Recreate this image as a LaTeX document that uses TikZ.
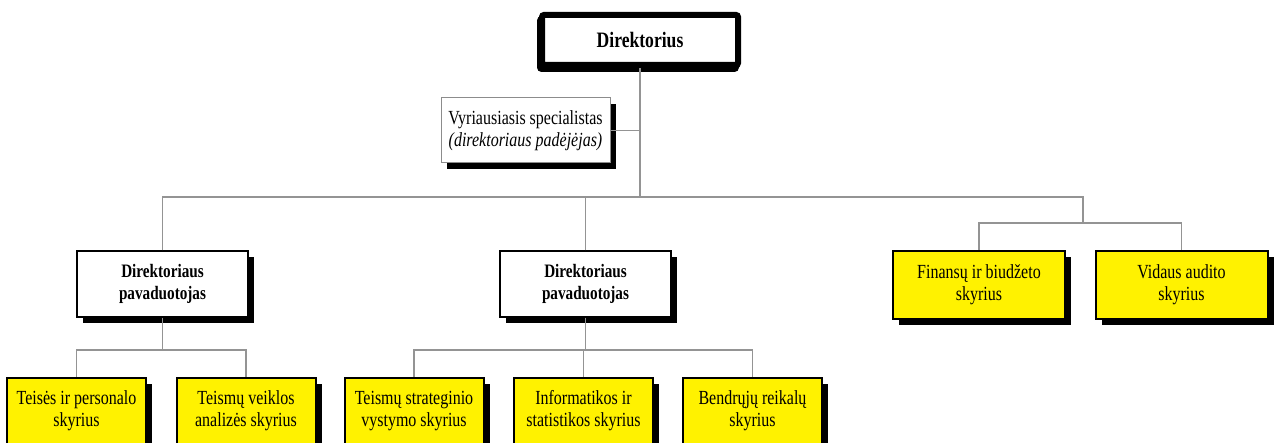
\documentclass[tikz,border=0pt]{standalone}
\usepackage{fontspec}
\setmainfont{Liberation Serif}[FakeStretch=0.8]
\usetikzlibrary{shadows}

\begin{document}
\begin{tikzpicture}[x=1pt, y=-1pt,
    link/.style={draw=black!42, line width=1.3pt},
    shade/.style={drop shadow={shadow xshift=6pt, shadow yshift=-6pt, opacity=1, fill=black}},
    topbox/.style={draw, line width=6pt, rounded corners=2pt, fill=white, minimum width=196pt, minimum height=50pt,
      font=\fontsize{22}{26}\selectfont\bfseries,
      drop shadow={shadow xshift=-2pt, shadow yshift=-4pt, opacity=1, fill=black, draw=black, line width=6pt}},
    staffbox/.style={draw=black!45, line width=1pt, fill=white, shade, align=center, minimum width=169pt, minimum height=65pt,
      font=\fontsize{20}{22}\selectfont},
    deputybox/.style={draw, line width=1.3pt, fill=white, shade, align=center, minimum width=171pt, minimum height=66pt,
      font=\fontsize{19}{22}\selectfont\bfseries},
    unitbox/.style={draw, line width=2pt, fill=yellow, shade, align=center, minimum width=139pt, minimum height=66pt,
      font=\fontsize{20}{22}\selectfont},
    bigunitbox/.style={unitbox, minimum width=172pt, minimum height=68pt}]

  \useasboundingbox (0,0) rectangle (1277,443);

  \node[topbox] (dir) at (640,40) {Direktorius};
  \node[staffbox] (spec) at (525.5,130.5) {Vyriausiasis specialistas\\ \textit{(direktoriaus padėjėjas)}};

  \node[deputybox] (dep1) at (162.5,284) {Direktoriaus\\ pavaduotojas};
  \node[deputybox] (dep2) at (585.5,284) {Direktoriaus\\ pavaduotojas};
  \node[bigunitbox] (fin) at (979,285) {Finansų ir biudžeto\\ skyrius};
  \node[bigunitbox] (aud) at (1181.5,285) {Vidaus audito\\ skyrius};

  \node[unitbox] (u1) at (76.5,411) {Teisės ir personalo\\ skyrius};
  \node[unitbox] (u2) at (246,411) {Teismų veiklos\\ analizės skyrius};
  \node[unitbox] (u3) at (414,411) {Teismų strateginio\\ vystymo skyrius};
  \node[unitbox] (u4) at (583.5,411) {Informatikos ir\\ statistikos skyrius};
  \node[unitbox] (u5) at (752.5,411) {Bendrųjų reikalų\\ skyrius};

  \coordinate (mainbus) at (1083,197);
  \coordinate (rightbus) at (1083,223);
  \coordinate (leftbus) at (0,350);

  \path[link] (dir.south) to (dir.south |- mainbus);
  \path[link] (spec.east) to (spec.east -| dir.south);
  \path[link] (dep1.north) |- (mainbus) -- (rightbus);
  \path[link] (dep2.north) to (dep2.north |- mainbus);
  \path[link] (fin.north) |- (rightbus) -| (aud.north);

  \path[link] (dep1.south) to (dep1.south |- leftbus);
  \path[link] (u1.north) -- (u1.north |- leftbus) -- (u2.north |- leftbus) -- (u2.north);
  \path[link] (dep2.south) to (dep2.south |- leftbus);
  \path[link] (u3.north) -- (u3.north |- leftbus) -- (u5.north |- leftbus) -- (u5.north);
  \path[link] (u4.north) to (u4.north |- leftbus);

\end{tikzpicture}
\end{document}
